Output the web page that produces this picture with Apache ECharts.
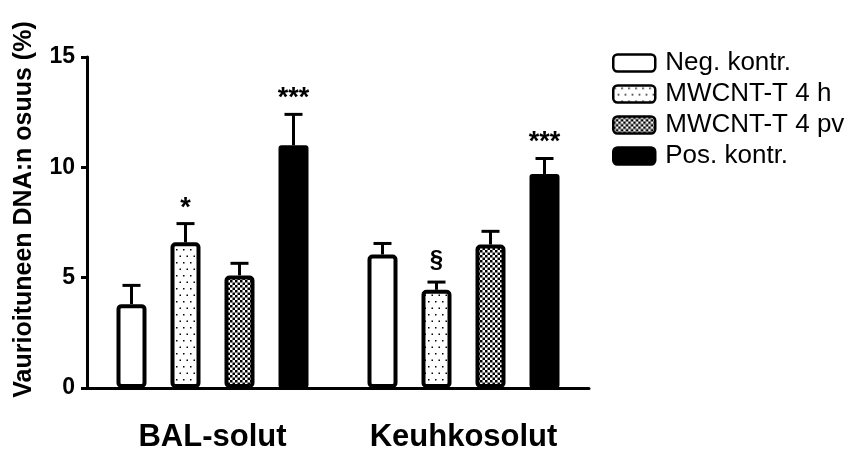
<!DOCTYPE html>
<html>
<head>
<meta charset="utf-8">
<script src="https://cdn.jsdelivr.net/npm/echarts@6/dist/echarts.min.js"></script>
<style>html,body{margin:0;padding:0;background:#fff}#c{width:848px;height:454px}</style>
</head>
<body>
<div id="c"></div>
<script>
const categories = ['BAL-solut', 'Keuhkosolut'];
const seriesNames = ['Neg. kontr.', 'MWCNT-T 4 h', 'MWCNT-T 4 pv', 'Pos. kontr.'];
const yTicks = [0, 5, 10, 15];
const negMean = [3.8, 6.05];
const negTop = [4.65, 6.55];
const h4Mean = [6.6, 4.45];
const h4Top = [7.45, 4.8];
const pvMean = [5.1, 6.5];
const pvTop = [5.65, 7.1];
const posMean = [11.0, 9.7];
const posTop = [12.4, 10.4];
const negAnn = ['', ''];
const h4Ann = ['*', '§'];
const pvAnn = ['', ''];
const posAnn = ['***', '***'];

const means = [negMean, h4Mean, pvMean, posMean];
const tops = [negTop, h4Top, pvTop, posTop];
const anns = [negAnn, h4Ann, pvAnn, posAnn];

function dotPattern() {
  const c = document.createElement('canvas');
  c.width = 7; c.height = 13;
  const g = c.getContext('2d');
  g.fillStyle = '#fff'; g.fillRect(0, 0, 7, 13);
  g.fillStyle = '#000';
  g.fillRect(1, 2, 1.5, 1.5);
  g.fillRect(4.5, 8.5, 1.5, 1.5);
  return c;
}
function checkPattern() {
  const c = document.createElement('canvas');
  c.width = 5; c.height = 5;
  const g = c.getContext('2d');
  g.fillStyle = '#fff'; g.fillRect(0, 0, 5, 5);
  g.fillStyle = '#000';
  g.fillRect(0, 0, 2.5, 2.5);
  g.fillRect(2.5, 2.5, 2.5, 2.5);
  return c;
}
const fills = [
  '#ffffff',
  { image: dotPattern(), repeat: 'repeat' },
  { image: checkPattern(), repeat: 'repeat' },
  '#000000'
];

const FONT = '"Liberation Sans", Arial, sans-serif';
const BARW = 30, PITCH = 54;

const series = [];
seriesNames.forEach((name, si) => {
  series.push({
    type: 'bar',
    name: name,
    data: means[si],
    barWidth: BARW,
    barGap: ((PITCH - BARW) / BARW * 100) + '%',
    itemStyle: { color: fills[si], borderColor: '#000', borderWidth: 4, borderRadius: si === 3 ? 1 : 3 },
    z: 2
  });
});
seriesNames.forEach((name, si) => {
  series.push({
    type: 'custom',
    z: 3,
    data: categories.map((c, i) => [i, tops[si][i], means[si][i]]),
    renderItem: function (params, api) {
      const ci = api.value(0);
      const t = api.coord([ci, api.value(1)]);
      const b = api.coord([ci, api.value(2)]);
      const x = t[0] + (si - 1.5) * PITCH;
      const txt = anns[si][params.dataIndex];
      const children = [
        { type: 'line', shape: { x1: x, y1: b[1], x2: x, y2: t[1] }, style: { stroke: '#000', lineWidth: 3 } },
        { type: 'line', shape: { x1: x - 9, y1: t[1], x2: x + 9, y2: t[1] }, style: { stroke: '#000', lineWidth: 3 } }
      ];
      if (txt) {
        children.push({
          type: 'text',
          style: {
            text: txt, x: x, y: t[1] - (txt === '§' ? 10 : 2),
            align: 'center', verticalAlign: 'bottom',
            font: 'bold ' + (txt === '§' ? 24 : 27) + 'px ' + FONT, fill: '#000'
          }
        });
      }
      return { type: 'group', children: children };
    }
  });
});

const chart = echarts.init(document.getElementById('c'), null, { renderer: 'canvas' });
chart.setOption({
  animation: false,
  backgroundColor: '#fff',
  grid: { left: 87, top: 57, width: 502, height: 331 },
  legend: {
    data: seriesNames,
    orient: 'vertical',
    left: 612, top: 50, padding: 0,
    itemWidth: 42, itemHeight: 17, itemGap: 5,
    icon: 'roundRect',
    itemStyle: { borderColor: '#000', borderWidth: 2.5 },
    textStyle: { fontFamily: FONT, fontSize: 26, color: '#000', padding: [0, 0, 0, 5] }
  },
  xAxis: {
    type: 'category',
    data: categories,
    axisLine: { lineStyle: { color: '#000', width: 3 } },
    axisTick: { alignWithLabel: true, length: 8, lineStyle: { color: '#000', width: 3 } },
    axisLabel: { interval: 0, margin: 34, fontFamily: FONT, fontWeight: 'bold', fontSize: 31, color: '#000' }
  },
  yAxis: {
    type: 'value',
    min: 0, max: 15, interval: 5,
    name: 'Vaurioituneen DNA:n osuus (%)',
    nameLocation: 'middle',
    nameGap: 50,
    nameTextStyle: { fontFamily: FONT, fontWeight: 'bold', fontSize: 25, color: '#000', padding: [0, 0, 0, 26] },
    axisLine: { show: true, lineStyle: { color: '#000', width: 3 } },
    axisTick: { show: true, length: 6, lineStyle: { color: '#000', width: 3 } },
    axisLabel: { margin: 12, fontFamily: FONT, fontWeight: 'bold', fontSize: 23, color: '#000',
      formatter: v => yTicks.indexOf(v) >= 0 ? String(v) : '' },
    splitLine: { show: false }
  },
  series: series
});
</script>
</body>
</html>
